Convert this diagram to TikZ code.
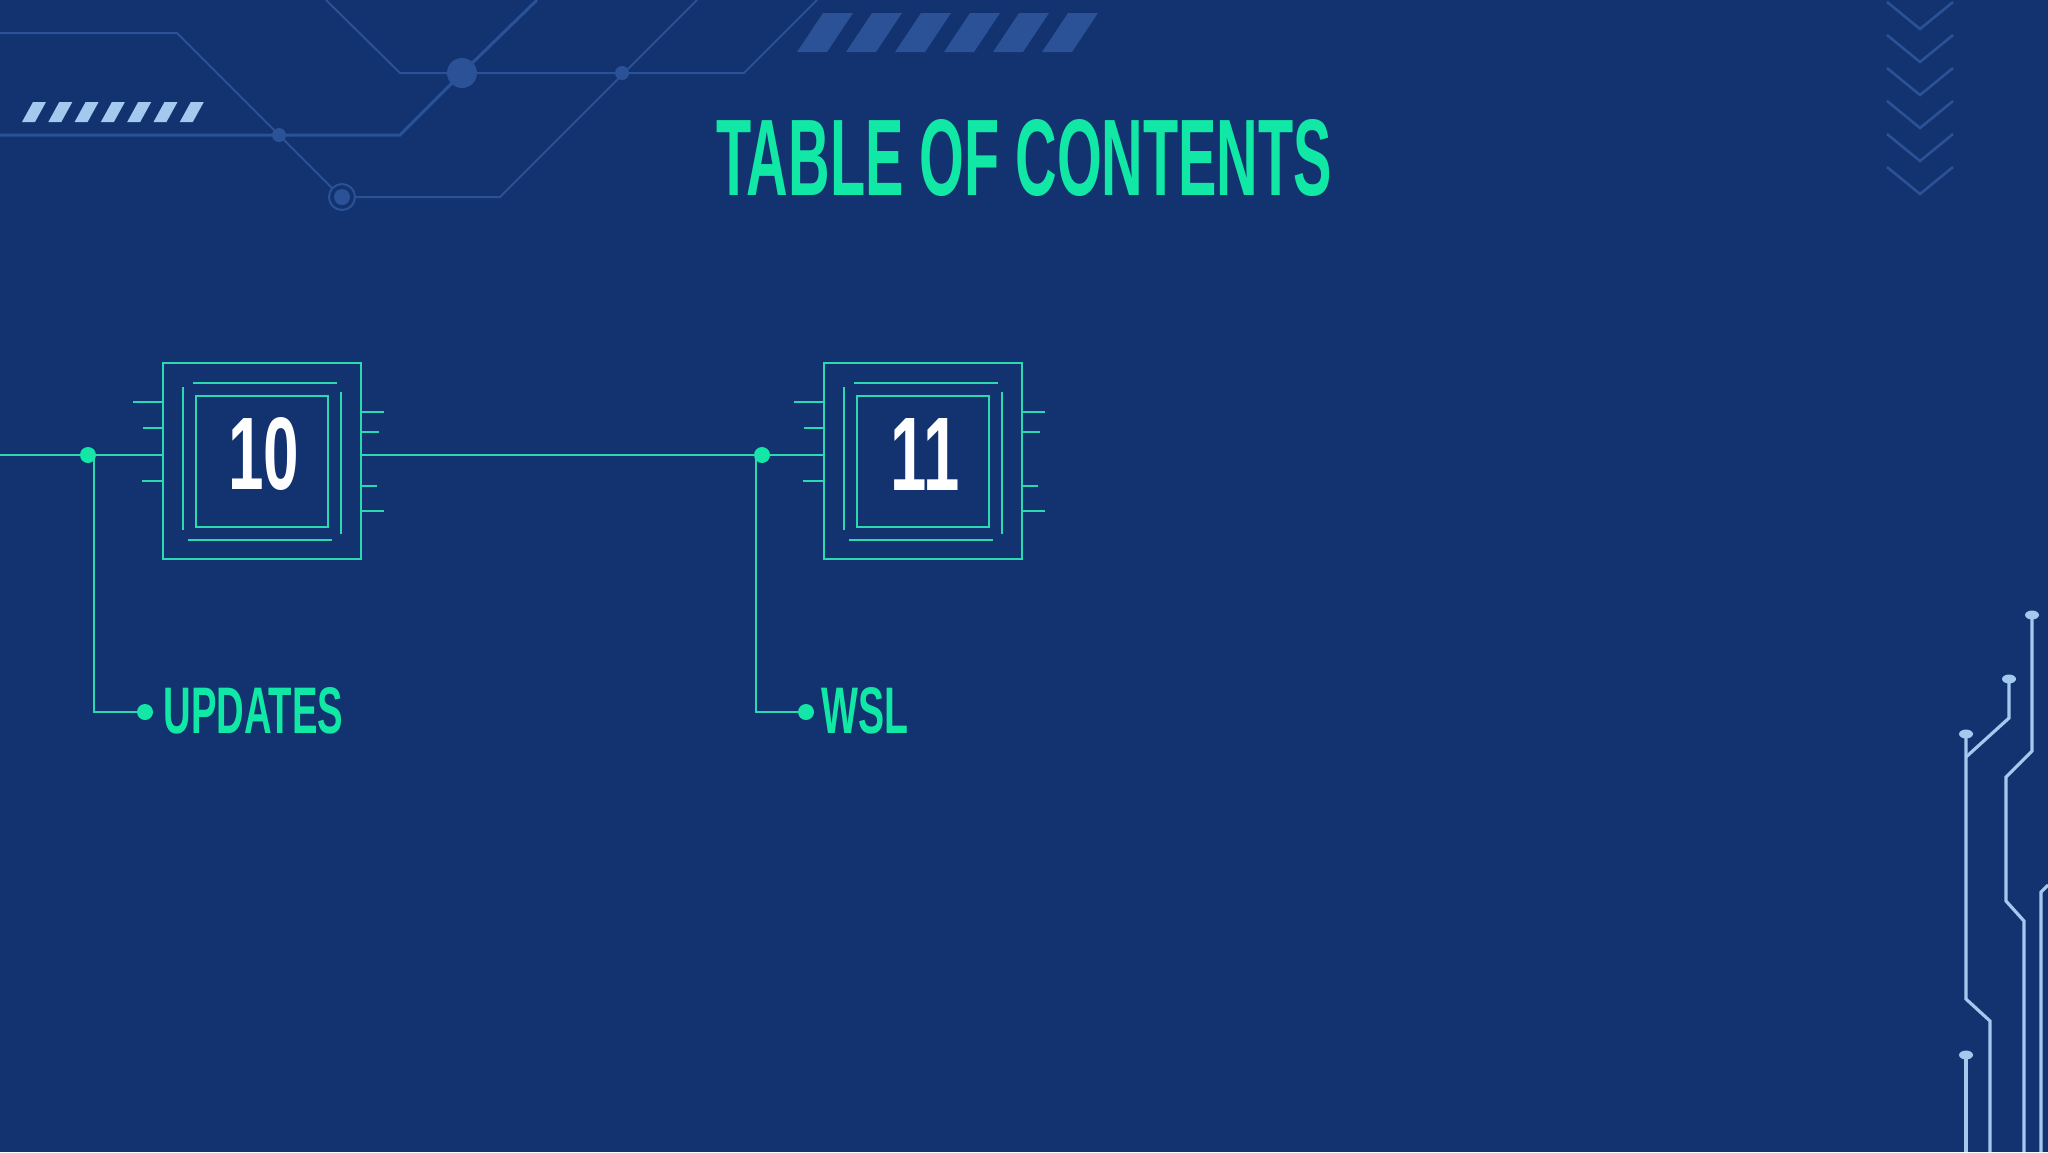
\documentclass[tikz,border=0pt]{standalone}
\usepackage{fontspec}
\setmainfont{Liberation Sans}
\definecolor{bg}{HTML}{12336F}
\definecolor{grn}{HTML}{12E8A6}
\definecolor{chipc}{HTML}{2AD9B2}
\definecolor{deco}{HTML}{2B5196}
\definecolor{lite}{HTML}{A3C9EF}
\tikzset{chipline/.style={draw=chipc,line width=1.3pt},
 decoline/.style={draw=deco,line width=1pt},
 liteline/.style={draw=lite,line width=1.6pt},
 gdot/.style={circle,fill=grn,inner sep=0pt,minimum size=8pt},
 ldot/.style={ellipse,fill=lite,inner sep=0pt,minimum width=7pt,minimum height=4.5pt}}
\usetikzlibrary{shapes.geometric}
\begin{document}
\begin{tikzpicture}[x=0.5pt,y=-0.5pt]
\fill[bg] (0,0) rectangle (2048,1152);
\useasboundingbox (0,0) rectangle (2048,1152);
% top-left decoration
\draw[decoline] (0,33) -- (177,33) -- (279,135) -- (332,188);
\draw[decoline,line width=1.5pt] (0,135) -- (400,135) -- (462,73) -- (537,0);
\draw[decoline] (326,0) -- (400,73) -- (744,73) -- (817,0);
\draw[decoline] (697,0) -- (500,197) -- (355,197);
\fill[deco] (462,73) circle (15);
\fill[deco] (622,73) circle (7);
\fill[deco] (279,135) circle (7);
\draw[deco,line width=1pt] (342,197) circle (13);
\fill[deco] (342,197) circle (8);
\foreach \i in {0,...,6}{\fill[lite] ({33+26.3*\i},102) -- ({46+26.3*\i},102) -- ({35+26.3*\i},122) -- ({22+26.3*\i},122) -- cycle;}
\foreach \i in {0,...,5}{\fill[deco] ({823+49*\i},13) -- ({853+49*\i},13) -- ({827+49*\i},52) -- ({797+49*\i},52) -- cycle;}
% chevrons
\foreach \y in {29,62,95,128,161,194}{\draw[decoline,line width=1.3pt] (1887,{\y-27}) -- (1920,\y) -- (1953,{\y-27});}
% right circuit
\draw[liteline] (1966,734) -- (1966,999) -- (1990,1021) -- (1990,1152);
\draw[liteline] (1966,757) -- (2009,718) -- (2009,679);
\draw[liteline] (2032,615) -- (2032,751) -- (2006,777) -- (2006,901) -- (2024,921) -- (2024,1152);
\draw[liteline] (2048,885) -- (2041,892) -- (2041,1152);
\draw[liteline] (1966,1055) -- (1966,1152);
\foreach \p in {(1966,734),(2009,679),(2032,615),(1966,1055)}{\node[ldot] at \p {};}
% title
\node[text=grn,inner sep=0pt] (title) at (1024,158) {\resizebox{308pt}{38pt}{\bfseries TABLE OF CONTENTS}};
% chips
\foreach \dx/\num/\w/\lab/\lw in {0/10/35.5/UPDATES/90,661/11/34.5/WSL/43.5}{
\begin{scope}[xshift=\dx*0.5pt]
\draw[chipline] (163,363) rectangle (361,559);
\draw[chipline] (196,396) rectangle (328,527);
\draw[chipline] (183,387) -- (183,530);
\draw[chipline] (341,392) -- (341,534);
\draw[chipline] (193,383) -- (337,383);
\draw[chipline] (188,540) -- (332,540);
\draw[chipline] (133,402) -- (163,402) (143,428) -- (163,428) (142,481) -- (163,481);
\draw[chipline] (361,412) -- (384,412) (361,432) -- (379,432) (361,486) -- (377,486) (361,511) -- (384,511);
\node[text=white,inner sep=0pt] (num\num) at (264,454) {\resizebox{\w pt}{36pt}{\bfseries \num}};
\end{scope}}
\draw[chipline] (0,455) -- (163,455) (361,455) -- (824,455);
\node[gdot] (d10) at (88,455) {};
\node[gdot] (e10) at (145,712) {};
\draw[chipline] (d10.center) -- (94,455) -- (94,712) -- (e10.center);
\node[text=grn,inner sep=0pt,anchor=west] (updates) at (163,711) {\resizebox{90pt}{23pt}{\bfseries UPDATES}};
\node[gdot] (d11) at (762,455) {};
\node[gdot] (e11) at (806,712) {};
\draw[chipline] (d11.center) -- (756,455) -- (756,712) -- (e11.center);
\node[text=grn,inner sep=0pt,anchor=west] (wsl) at (821,711) {\resizebox{43.5pt}{23pt}{\bfseries WSL}};
\end{tikzpicture}
\end{document}
